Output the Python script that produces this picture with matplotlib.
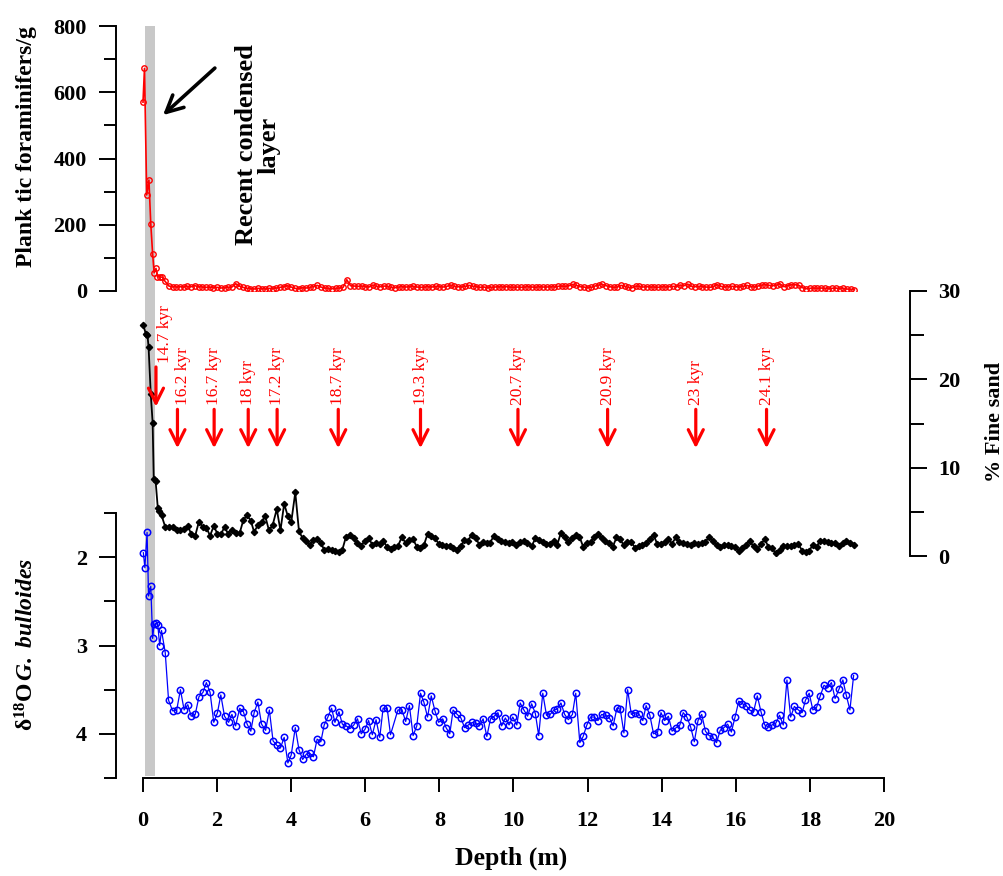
import numpy as np
from matplotlib import pyplot as plt
from matplotlib.ticker import MultipleLocator

plt.rcParams['font.family'] = ['Liberation Serif', 'DejaVu Serif']
plt.rcParams['font.weight'] = 'bold'
plt.rcParams['mathtext.fontset'] = 'custom'
plt.rcParams['mathtext.rm'] = 'Liberation Serif'
plt.rcParams['mathtext.bf'] = 'Liberation Serif:bold'
plt.rcParams['mathtext.it'] = 'Liberation Serif:italic'
plt.rcParams['mathtext.bfit'] = 'Liberation Serif:bold:italic'

# Planktic foraminifers per gram (red curve)
red_depth_top = [0.0, 0.04, 0.10, 0.16, 0.21, 0.26, 0.30, 0.35, 0.39, 0.46, 0.52, 0.59, 0.70]
red_vals_top = [570, 672, 290, 335, 202, 112, 55, 68, 43, 42, 42, 30, 15]
red_vals_rest = [
    13, 12, 13, 12, 14, 13, 16, 13, 12, 11,
    12, 10, 11, 9, 10, 11, 12, 22, 15, 11,
    8, 7, 6, 8, 7, 6, 8, 7, 9, 11,
    13, 16, 12, 8, 7, 10, 9, 11, 13, 17,
    12, 9, 8, 7, 8, 9, 11, 34, 16, 15,
    14, 15, 13, 12, 18, 14, 13, 15, 14, 11,
    10, 12, 13, 12, 13, 14, 12, 11, 12, 13,
    12, 14, 13, 12, 14, 18, 14, 13, 12, 14,
    17, 14, 13, 11, 12, 10, 11, 12, 13, 12,
    13, 12, 11, 12, 11, 12, 13, 12, 11, 13,
    12, 12, 13, 12, 14, 15, 14, 16, 20, 17,
    13, 12, 10, 11, 15, 18, 20, 16, 13, 11,
    12, 17, 14, 11, 10, 15, 14, 12, 13, 12,
    12, 11, 13, 12, 13, 14, 13, 18, 16, 21,
    14, 13, 14, 13, 12, 11, 14, 19, 14, 12,
    13, 14, 13, 12, 14, 17, 13, 12, 15, 18,
    19, 17, 16, 18, 21, 13, 16, 19, 19, 17,
    10, 7, 8, 9, 8, 9, 8, 7, 8, 9,
    7, 8, 6, 5, 4]
# samples every 10 cm from 0.8 m
red_depth_rest = np.round(0.8 + 0.1 * np.arange(len(red_vals_rest)), 2)
red_depth = np.concatenate([red_depth_top, red_depth_rest])
red_vals = np.concatenate([red_vals_top, red_vals_rest])

# % fine sand (black curve)
sand_depth = [0.01, 0.08, 0.12, 0.15, 0.21, 0.26, 0.29, 0.34, 0.40, 0.44, 0.50, 0.60, 0.71, 0.81, 0.91,
              1.01, 1.11, 1.21, 1.30, 1.41, 1.51, 1.61, 1.71, 1.81, 1.91, 2.01, 2.11, 2.20, 2.30, 2.40,
              2.51, 2.61, 2.71, 2.81, 2.91, 3.00, 3.10, 3.20, 3.30, 3.40, 3.50, 3.61, 3.71, 3.81, 3.91,
              4.00, 4.11, 4.21, 4.31, 4.41, 4.50, 4.60, 4.70, 4.80, 4.89, 4.99, 5.09, 5.18, 5.29, 5.38,
              5.48, 5.59, 5.69, 5.78, 5.88, 5.98, 6.09, 6.19, 6.29, 6.39, 6.49, 6.59, 6.69, 6.78, 6.88,
              6.98, 7.09, 7.19, 7.29, 7.39, 7.48, 7.58, 7.68, 7.78, 7.88, 7.98, 8.08, 8.18, 8.28, 8.38,
              8.47, 8.58, 8.67, 8.77, 8.87, 8.98, 9.08, 9.18, 9.28, 9.37, 9.47, 9.57, 9.67, 9.77, 9.87,
              9.97, 10.07, 10.18, 10.28, 10.37, 10.49, 10.59, 10.69, 10.79, 10.89, 10.99, 11.08, 11.18,
              11.28, 11.38, 11.48, 11.58, 11.68, 11.78, 11.88, 11.98, 12.08, 12.18, 12.28, 12.38, 12.48,
              12.58, 12.68, 12.78, 12.88, 12.97, 13.07, 13.17, 13.28, 13.38, 13.48, 13.58, 13.68, 13.78,
              13.88, 13.98, 14.08, 14.18, 14.28, 14.38, 14.47, 14.57, 14.68, 14.78, 14.88, 14.98, 15.08,
              15.17, 15.28, 15.38, 15.48, 15.58, 15.68, 15.78, 15.88, 15.98, 16.08, 16.18, 16.27, 16.37,
              16.48, 16.58, 16.68, 16.78, 16.88, 16.98, 17.08, 17.18, 17.28, 17.38, 17.48, 17.58, 17.69,
              17.79, 17.89, 17.98, 18.08, 18.18, 18.28, 18.38, 18.48, 18.58, 18.68, 18.79, 18.89, 18.98,
              19.08, 19.18]
sand_vals = [26.1, 25.1, 25.0, 23.7, 18.3, 15.1, 8.7, 8.5, 5.4, 5.1, 4.6, 3.3, 3.3, 3.3, 3.0,
             2.9, 3.1, 3.4, 2.5, 2.3, 3.9, 3.3, 3.2, 2.3, 3.4, 2.5, 2.5, 3.3, 2.5, 3.0,
             2.6, 2.6, 4.1, 4.6, 4.0, 2.7, 3.5, 3.9, 4.5, 2.9, 3.5, 5.3, 2.9, 5.9, 4.5,
             3.8, 7.2, 2.8, 2.0, 1.7, 1.3, 1.8, 1.9, 1.5, 0.7, 0.8, 0.7, 0.57, 0.5, 0.7,
             2.2, 2.4, 2.0, 1.5, 1.1, 1.7, 2.0, 1.3, 1.5, 1.4, 1.7, 1.0, 0.75, 1.05, 1.1,
             2.1, 1.5, 1.8, 1.9, 1.05, 0.95, 1.2, 2.5, 2.3, 2.0, 1.4, 1.25, 1.1, 1.1, 0.9,
             0.7, 1.1, 1.8, 1.7, 2.4, 2.0, 1.3, 1.6, 1.5, 1.5, 2.3, 1.9, 1.7, 1.6, 1.5,
             1.6, 1.25, 1.6, 1.7, 1.5, 1.1, 2.0, 1.8, 1.6, 1.35, 1.4, 1.7, 1.25,
             2.65, 2.1, 1.6, 2.0, 2.4, 2.2, 1.05, 1.45, 1.6, 2.2, 2.45, 2.0, 1.7,
             1.5, 1.05, 2.1, 1.9, 1.25, 1.55, 1.6, 0.95, 1.1, 1.3, 1.5, 1.9, 2.4,
             1.35, 1.4, 1.6, 1.9, 1.4, 2.1, 1.6, 1.5, 1.35, 1.25, 1.5, 1.35, 1.5,
             1.6, 2.1, 1.7, 1.2, 1.05, 1.2, 1.25, 1.1, 1.05, 0.6, 0.9, 1.25, 1.7,
             1.1, 0.75, 1.35, 1.9, 1.05, 0.85, 0.3, 0.7, 1.1, 1.1, 1.1, 1.25, 1.35,
             0.6, 0.5, 0.6, 1.25, 1.05, 1.75, 1.7, 1.6, 1.5, 1.45, 1.1, 1.5, 1.7,
             1.45, 1.25]

# d18O G. bulloides (blue curve)
iso_depth = [0.01, 0.05, 0.11, 0.15, 0.21, 0.26, 0.30, 0.36, 0.40, 0.45, 0.50, 0.60, 0.69, 0.80, 0.91,
             1.01, 1.11, 1.21, 1.30, 1.41, 1.51, 1.62, 1.71, 1.81, 1.91, 2.01, 2.10, 2.20, 2.31, 2.40,
             2.50, 2.61, 2.71, 2.81, 2.91, 3.00, 3.10, 3.20, 3.31, 3.41, 3.51, 3.61, 3.71, 3.81, 3.91,
             4.00, 4.11, 4.21, 4.31, 4.41, 4.50, 4.60, 4.70, 4.80, 4.89, 4.99, 5.09, 5.18, 5.29, 5.38,
             5.48, 5.59, 5.69, 5.79, 5.89, 5.99, 6.09, 6.19, 6.29, 6.39, 6.48, 6.59, 6.68, 6.88, 6.99,
             7.09, 7.19, 7.29, 7.39, 7.49, 7.58, 7.68, 7.78, 7.88, 7.98, 8.09, 8.18, 8.28, 8.37, 8.48,
             8.58, 8.68, 8.78, 8.89, 8.98, 9.08, 9.18, 9.28, 9.38, 9.48, 9.58, 9.68, 9.78, 9.88, 9.98,
             10.09, 10.18, 10.28, 10.38, 10.49, 10.59, 10.68, 10.79, 10.89, 10.99, 11.09, 11.18, 11.28,
             11.38, 11.48, 11.59, 11.68, 11.79, 11.88, 11.98, 12.08, 12.18, 12.28, 12.38, 12.49, 12.59,
             12.69, 12.79, 12.88, 12.98, 13.08, 13.18, 13.28, 13.39, 13.49, 13.58, 13.68, 13.78, 13.89,
             13.98, 14.08, 14.18, 14.28, 14.39, 14.49, 14.58, 14.68, 14.78, 14.88, 14.98, 15.08, 15.18,
             15.28, 15.38, 15.48, 15.58, 15.68, 15.78, 15.88, 15.98, 16.08, 16.18, 16.28, 16.37, 16.48,
             16.58, 16.68, 16.78, 16.88, 16.98, 17.08, 17.18, 17.28, 17.38, 17.48, 17.58, 17.69, 17.79,
             17.88, 17.98, 18.08, 18.18, 18.28, 18.38, 18.48, 18.58, 18.68, 18.79, 18.89, 18.98, 19.08,
             19.18]
iso_vals = [1.95, 2.12, 1.72, 2.44, 2.33, 2.92, 2.76, 2.75, 2.77, 3.00, 2.83, 3.08, 3.62, 3.74, 3.73,
            3.50, 3.73, 3.67, 3.80, 3.78, 3.58, 3.53, 3.42, 3.53, 3.87, 3.76, 3.56, 3.80, 3.87, 3.78,
            3.91, 3.71, 3.75, 3.89, 3.97, 3.76, 3.64, 3.89, 3.96, 3.73, 4.08, 4.13, 4.16, 4.04, 4.33,
            4.24, 3.93, 4.18, 4.29, 4.23, 4.22, 4.26, 4.06, 4.09, 3.90, 3.81, 3.71, 3.87, 3.75, 3.89,
            3.91, 3.94, 3.90, 3.83, 4.00, 3.95, 3.85, 4.01, 3.84, 4.04, 3.71, 3.71, 4.01, 3.73, 3.73,
            3.86, 3.68, 4.02, 3.91, 3.54, 3.64, 3.81, 3.57, 3.74, 3.87, 3.83, 3.93, 4.00, 3.73, 3.78,
            3.82, 3.93, 3.90, 3.87, 3.88, 3.91, 3.83, 4.03, 3.83, 3.80, 3.76, 3.91, 3.82, 3.90, 3.81,
            3.90, 3.65, 3.73, 3.80, 3.66, 3.77, 4.02, 3.54, 3.79, 3.78, 3.73, 3.72, 3.65,
            3.78, 3.84, 3.78, 3.54, 4.10, 4.03, 3.90, 3.81, 3.81, 3.85, 3.78, 3.79, 3.82,
            3.91, 3.71, 3.72, 3.99, 3.50, 3.78, 3.76, 3.78, 3.85, 3.68, 3.79, 4.00, 3.98,
            3.76, 3.85, 3.80, 3.97, 3.93, 3.90, 3.76, 3.81, 3.92, 4.09, 3.85, 3.78, 3.97,
            4.02, 4.04, 4.10, 3.96, 3.93, 3.89, 3.98, 3.81, 3.63, 3.66, 3.68, 3.73, 3.75,
            3.57, 3.75, 3.90, 3.92, 3.90, 3.88, 3.79, 3.90, 3.39, 3.81, 3.69, 3.73, 3.76,
            3.62, 3.54, 3.73, 3.70, 3.57, 3.45, 3.48, 3.42, 3.60, 3.49, 3.39, 3.56, 3.73,
            3.34]

# age markers (red arrows)
kyr_labels = ['14.7 kyr', '16.2 kyr', '16.7 kyr', '18 kyr', '17.2 kyr', '18.7 kyr',
              '19.3 kyr', '20.7 kyr', '20.9 kyr', '23 kyr', '24.1 kyr']
kyr_depth = [0.35, 0.93, 1.92, 2.84, 3.62, 5.27, 7.49, 10.12, 12.54, 14.92, 16.83]

# recent condensed layer
band = (0.05, 0.33)

W_PX, H_PX = 1004, 876
L_PX, R_PX = 116, 910
x0, x20 = 143, 884
ppm = (x20 - x0) / 20.0
xlim = ((L_PX - x0) / ppm, (R_PX - x0) / ppm)


def box(top, bottom):
    return [L_PX / W_PX, 1 - bottom / H_PX, (R_PX - L_PX) / W_PX, (bottom - top) / H_PX]


fig = plt.figure(figsize=(10.04, 8.76), dpi=100)

# grey band behind everything
ax_bg = fig.add_axes(box(26, 776))
ax_bg.set_xlim(xlim)
ax_bg.set_ylim(0, 1)
ax_bg.axvspan(band[0], band[1], color='#c8c8c8', lw=0)
ax_bg.axis('off')

ax_top = fig.add_axes(box(26, 291))
ax_mid = fig.add_axes(box(291, 556))
ax_bot = fig.add_axes(box(513, 778))

for ax in (ax_top, ax_mid, ax_bot):
    ax.patch.set_visible(False)
    ax.set_xlim(xlim)
    for s in ax.spines.values():
        s.set_visible(False)
        s.set_linewidth(1.4)
    ax.tick_params(which='both', width=1.4, labelsize=16, colors='black')
    ax.tick_params(which='major', length=12)
    ax.tick_params(which='minor', length=9)

# top panel
ax_top.plot(red_depth, red_vals, '-', color='red', lw=1.2, marker='o', ms=3.9,
            mfc='none', mec='red', mew=1.0)
ax_top.set_ylim(0, 800)
ax_top.spines['left'].set_visible(True)
ax_top.spines['left'].set_bounds(0, 800)
ax_top.yaxis.set_major_locator(MultipleLocator(200))
ax_top.yaxis.set_minor_locator(MultipleLocator(100))
ax_top.tick_params(axis='y', which='major', pad=9)
ax_top.xaxis.set_visible(False)
ax_top.annotate('', xy=(0.54, 531), xytext=(1.94, 673),
                arrowprops=dict(arrowstyle='->', color='black', lw=2.6, mutation_scale=30,
                                shrinkA=0, shrinkB=0))
ax_top.text(3.10, 441, 'Recent condensed\nlayer', rotation=90, ha='center', va='center',
            multialignment='center', fontsize=19, fontweight='bold', linespacing=1.0)

# middle panel
ax_mid.plot(sand_depth, sand_vals, '-', color='black', lw=1.3, marker='D', ms=3.2,
            mfc='black', mec='black')
ax_mid.set_ylim(0, 30)
ax_mid.spines['right'].set_visible(True)
ax_mid.spines['right'].set_bounds(0, 30)
ax_mid.yaxis.tick_right()
ax_mid.yaxis.set_major_locator(MultipleLocator(10))
ax_mid.yaxis.set_minor_locator(MultipleLocator(5))
ax_mid.tick_params(axis='y', which='major', pad=8.5)
ax_mid.tick_params(axis='y', which='minor', length=10)
ax_mid.xaxis.set_visible(False)

for i, (lab, d) in enumerate(zip(kyr_labels, kyr_depth)):
    if i == 0:
        tail, tip, lx = 21.4, 16.9, d + 0.24
    else:
        tail, tip, lx = 16.6, 12.2, d
    if i == 1:
        lx = d + 0.14
    ax_mid.annotate('', xy=(d, tip), xytext=(d, tail),
                    arrowprops=dict(arrowstyle='->', color='red', lw=2.3, mutation_scale=27,
                                    shrinkA=0, shrinkB=0))
    ax_mid.text(lx, tail + 0.45, lab, rotation=90, ha='center', va='bottom', color='red',
                fontsize=12.5, fontweight='normal')

# bottom panel
ax_bot.plot(iso_depth, iso_vals, '-', color='blue', lw=0.9, marker='o', ms=4.6,
            mfc='none', mec='blue', mew=1.1)
ax_bot.set_ylim(4.5, 1.5)
ax_bot.spines['left'].set_visible(True)
ax_bot.spines['left'].set_bounds(1.5, 4.5)
ax_bot.set_yticks([2, 3, 4])
ax_bot.set_yticks([1.5, 2.5, 3.5, 4.5], minor=True)
ax_bot.tick_params(axis='y', which='major', pad=9)
ax_bot.spines['bottom'].set_visible(True)
ax_bot.spines['bottom'].set_bounds(0, 20)
ax_bot.set_xticks(np.arange(0, 21, 2))
ax_bot.tick_params(axis='x', which='major', length=10, pad=14)

# axis titles
fig.text(27 / W_PX, 1 - 147 / H_PX, 'Plank tic foraminifers/g', rotation=90, ha='center',
         va='center', fontsize=17, fontweight='bold')
fig.text(995 / W_PX, 1 - 422 / H_PX, '% Fine sand', rotation=90, ha='center', va='center',
         fontsize=16, fontweight='bold')
fig.text(27 / W_PX, 1 - 645 / H_PX,
         r'$\mathrm{\delta}^{\mathbf{18}}\mathbf{O}\,\mathbfit{G.\ bulloides}$',
         rotation=90, ha='center', va='center', fontsize=17)
fig.text(511 / W_PX, 1 - 858 / H_PX, 'Depth (m)', ha='center', va='center',
         fontsize=18.5, fontweight='bold')

plt.savefig('out.png', dpi=100)
